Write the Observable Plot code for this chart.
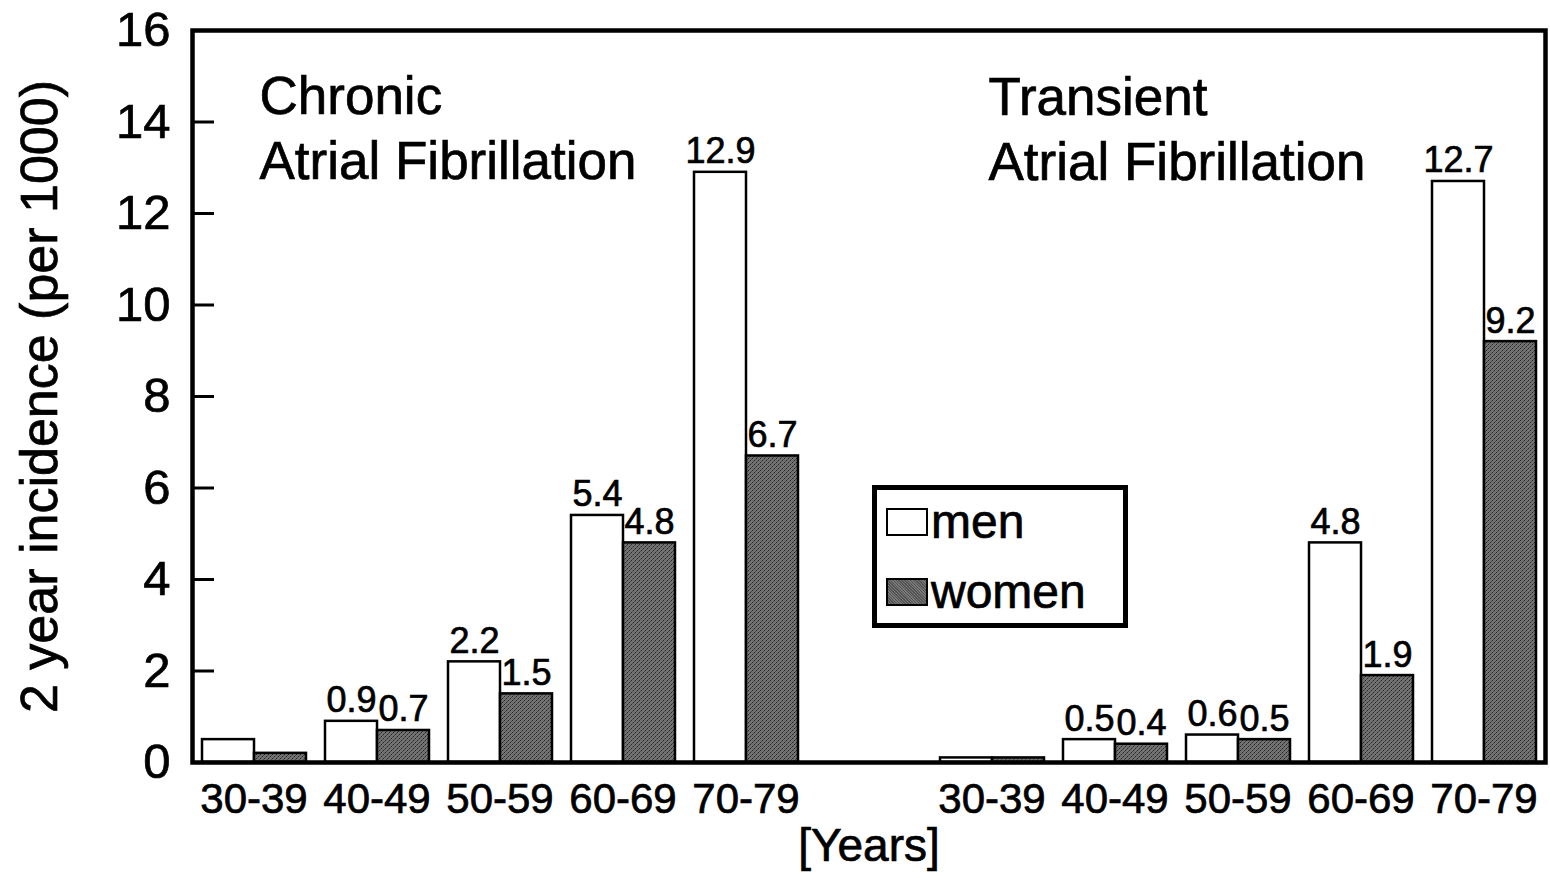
<!DOCTYPE html>
<html>
<head>
<meta charset="utf-8">
<script src="https://cdn.jsdelivr.net/npm/d3@7"></script>
<script src="https://cdn.jsdelivr.net/npm/@observablehq/plot@0.6"></script>
<style>
  html, body { margin: 0; padding: 0; background: #fff; }
  #wrap { position: relative; width: 1550px; height: 872px; font-family: "Liberation Sans", Arial, sans-serif; }
  #wrap svg text { stroke: #000; stroke-width: 0.7px; }
  g[aria-label="fx-axis label"] text { font-size: 46px; }
  g[aria-label="y-axis label"] text { font-size: 52px; }
  #legend { position: absolute; left: 872px; top: 485px; width: 256px; height: 143px; box-sizing: border-box;
            border: 5px solid #000; background: #fff; }
  .row { position: absolute; left: 9px; height: 40px; display: flex; align-items: center; font-size: 48px; line-height: 40px;
         color: #000; -webkit-text-stroke: 0.7px #000; }
  .sw { width: 42px; height: 28px; box-sizing: border-box; border: 2px solid #000; margin-right: 3px; }
</style>
</head>
<body>
<div id="wrap"></div>
<script>
// ---- data ----
const panels = ["Chronic", "Transient"];
const panelTitles = ["Chronic\nAtrial Fibrillation", "Transient\nAtrial Fibrillation"];
const ages = ["30-39", "40-49", "50-59", "60-69", "70-79"];
const sexes = ["men", "women"];
const chronicMen = [0.5, 0.9, 2.2, 5.4, 12.9];
const chronicWomen = [0.2, 0.7, 1.5, 4.8, 6.7];
const transientMen = [0.1, 0.5, 0.6, 4.8, 12.7];
const transientWomen = [0.1, 0.4, 0.5, 1.9, 9.2];
const labelled = [false, true, true, true, true];
const yTicks = [0, 2, 4, 6, 8, 10, 12, 14, 16];
const yLabel = "2 year incidence (per 1000)";
const xLabel = "[Years]";

// ---- table ----
const series = {Chronic: [chronicMen, chronicWomen], Transient: [transientMen, transientWomen]};
const gapKey = "gap";
const fxDomain = [...ages.map(a => "Chronic " + a), gapKey, ...ages.map(a => "Transient " + a)];
const rows = [];
panels.forEach(p => ages.forEach((a, i) => sexes.forEach((s, j) => {
  rows.push({key: p + " " + a, panel: p, age: a, sex: s, value: series[p][j][i], show: labelled[i]});
})));
rows.push({key: gapKey, panel: null, age: "", sex: "men", value: NaN, show: false});
const ageOf = new Map(rows.map(d => [d.key, d.age]));
const titleRows = panels.map((p, i) => ({key: p + " " + ages[0], t: panelTitles[i]}));

const plot = Plot.plot({
  width: 1550,
  height: 872,
  marginLeft: 190,
  marginRight: 3,
  marginTop: 30,
  marginBottom: 110,
  style: {fontFamily: "'Liberation Sans', Arial, sans-serif", color: "#000", background: "#fff", overflow: "visible"},
  fx: {domain: fxDomain, padding: 0, label: null},
  x: {domain: sexes, paddingInner: 0, paddingOuter: 0.176, axis: null},
  y: {domain: [0, 16], axis: null},
  color: {domain: sexes, range: ["#ffffff", "url(#stipple)"]},
  marks: [
    Plot.barY(rows, {fx: "key", x: "sex", y: "value", fill: "sex", stroke: "#000", strokeWidth: 2.5, inset: 0}),
    Plot.text(rows.filter(d => d.show), {fx: "key", x: "sex", y: "value", text: d => d.value.toFixed(1),
      lineAnchor: "bottom", dy: -9, fontSize: 36, fill: "#000"}),
    Plot.text(titleRows.slice(0, 1), {fx: "key", text: "t", frameAnchor: "top-left", textAnchor: "start",
      lineAnchor: "top", lineHeight: 1.23, dx: 67, dy: 37, fontSize: 53, fill: "#000"}),
    Plot.text(titleRows.slice(1), {fx: "key", text: "t", frameAnchor: "top-left", textAnchor: "start",
      lineAnchor: "top", lineHeight: 1.23, dx: 58, dy: 38, fontSize: 53, fill: "#000"}),
    Plot.axisY({ticks: yTicks, facetAnchor: "left", tickSize: -22, tickPadding: 44, strokeWidth: 3, fontSize: 49,
      label: yLabel, labelAnchor: "center", labelOffset: 172, labelArrow: "none"}),
    Plot.axisFx({anchor: "bottom", tickSize: 0, tickPadding: 21, fontSize: 42, tickFormat: k => ageOf.get(k),
      label: xLabel, labelAnchor: "center", labelOffset: 98, labelArrow: "none"}),
    Plot.frame({facet: "super", stroke: "#000", strokeWidth: 4.5})
  ]
});

// stipple pattern for the women bars
const svgNS = "http://www.w3.org/2000/svg";
const defs = document.createElementNS(svgNS, "defs");
defs.innerHTML = `<pattern id="stipple" width="4" height="4" patternUnits="userSpaceOnUse">
  <rect width="4" height="4" fill="#727272"></rect>
  <rect x="0" y="0" width="1" height="1" fill="#262626"></rect>
  <rect x="2" y="2" width="1" height="1" fill="#262626"></rect>
  <rect x="1" y="3" width="1" height="1" fill="#4a4a4a"></rect>
  <rect x="3" y="1" width="1" height="1" fill="#4a4a4a"></rect>
</pattern>`;
plot.insertBefore(defs, plot.firstChild);

const wrap = document.getElementById("wrap");
wrap.appendChild(plot);

// legend (inside the plot area)
const legend = document.createElement("div");
legend.id = "legend";
const fills = ["#fff", "repeating-linear-gradient(45deg,#555 0 1px,#777 1px 2px)"];
sexes.forEach((s, i) => {
  const row = document.createElement("div");
  row.className = "row";
  row.style.top = (i === 0 ? 12 : 82) + "px";
  const sw = document.createElement("div");
  sw.className = "sw";
  sw.style.background = fills[i];
  const lab = document.createElement("span");
  lab.textContent = s;
  row.appendChild(sw);
  row.appendChild(lab);
  legend.appendChild(row);
});
wrap.appendChild(legend);
</script>
</body>
</html>
